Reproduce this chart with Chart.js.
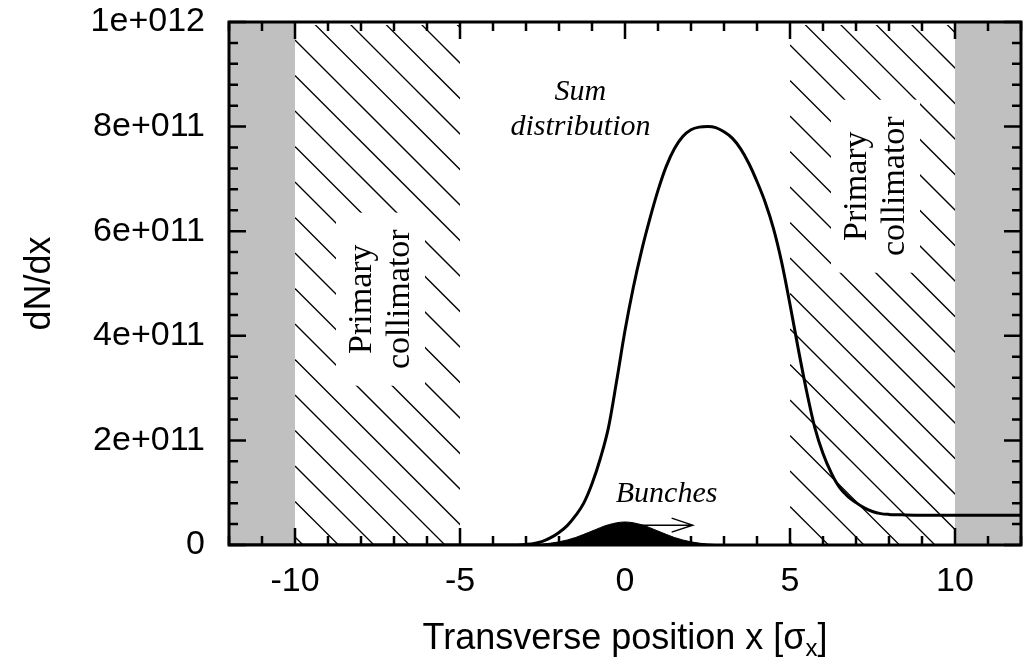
<!DOCTYPE html>
<html>
<head>
<meta charset="utf-8">
<script src="https://cdn.jsdelivr.net/npm/chart.js@4.4.0/dist/chart.umd.min.js"></script>
<style>
  html, body { margin: 0; padding: 0; background: #fff; }
  .chart-container { position: relative; width: 1030px; height: 665px; }
</style>
</head>
<body>
<div class="chart-container"><canvas id="beamChart" width="1030" height="665"></canvas></div>
<script>
// transverse position (sigma_x) and dN/dx of the summed distribution
const sumPositions = [-12, -4, -3.5, -3.25, -3, -2.75, -2.5, -2.25, -2, -1.75, -1.5, -1.25, -1, -0.75, -0.5, -0.25,
    0, 0.25, 0.5, 0.75, 1, 1.25, 1.5, 1.75, 2, 2.25, 2.5, 2.75, 3, 3.25, 3.5, 3.75,
    4, 4.25, 4.5, 4.75, 5, 5.25, 5.5, 5.75, 6, 6.25, 6.5, 6.75, 7, 7.25, 7.5, 7.75,
    8, 8.5, 9, 10, 11, 12];
const sumValues = [0, 0, 0, 2e8, 1.2e9, 3e9, 7e9, 1.4e10, 2.4e10, 3.7e10, 5.6e10, 8e10, 1.17e11, 1.65e11, 2.25e11, 3.15e11,
    4.1e11, 4.92e11, 5.62e11, 6.23e11, 6.78e11, 7.24e11, 7.58e11, 7.81e11, 7.94e11, 7.99e11, 8.0e11, 7.98e11, 7.9e11, 7.78e11, 7.58e11, 7.3e11,
    6.95e11, 6.55e11, 6.05e11, 5.4e11, 4.6e11, 3.75e11, 2.95e11, 2.25e11, 1.75e11, 1.38e11, 1.1e11, 9.3e10, 8.1e10, 7.1e10, 6.4e10, 6e10,
    5.85e10, 5.75e10, 5.7e10, 5.7e10, 5.7e10, 5.7e10];

// single bunch profile
const bunchPositions = [-3.5, -3, -2.5, -2, -1.5, -1, -0.5, 0, 0.5, 1, 1.5, 2, 2.5, 3, 3.5];
const bunchValues = [1e8, 5e8, 1.9e9, 6e9, 1.43e10, 2.67e10, 3.88e10, 4.4e10, 3.88e10, 2.67e10, 1.43e10, 6e9, 1.9e9, 5e8, 1e8];

const xTickValues = [-10, -5, 0, 5, 10];
const yTickValues = [0, 2e11, 4e11, 6e11, 8e11, 1e12];
const yTickLabels = ['0', '2e+011', '4e+011', '6e+011', '8e+011', '1e+012'];

const grayRanges = [[-12, -10], [10, 12]];
const collimatorRanges = [[-10, -5], [5, 10]];
const collimatorLabelY = [4.7e11, 6.86e11];

const SANS = '"Liberation Sans", Arial, sans-serif';
const SERIF = '"Liberation Serif", "Times New Roman", serif';

const backdrop = {
    id: 'backdrop',
    beforeDatasetsDraw(chart) {
        const ctx = chart.ctx;
        const xs = chart.scales.x, ys = chart.scales.y;
        const top = chart.chartArea.top, bottom = chart.chartArea.bottom;
        ctx.save();
        // grey zones beyond the collimators
        ctx.fillStyle = '#c0c0c0';
        grayRanges.forEach(r => {
            const a = xs.getPixelForValue(r[0]), b = xs.getPixelForValue(r[1]);
            ctx.fillRect(a, top, b - a, bottom - top);
        });
        // hatched collimator jaws
        const spacing = 35.5;
        collimatorRanges.forEach((r, i) => {
            const a = xs.getPixelForValue(r[0]), b = xs.getPixelForValue(r[1]);
            const phase = i === 0 ? 18 : 23;
            ctx.save();
            ctx.beginPath();
            ctx.rect(a, top + 3, b - a, bottom - top - 3);
            ctx.clip();
            ctx.strokeStyle = '#000';
            ctx.lineWidth = 1.3;
            const kMin = -Math.ceil((b - a) / spacing) - 1;
            const kMax = Math.ceil((bottom - top) / spacing) + 1;
            for (let k = kMin; k <= kMax; k++) {
                const y0 = top + phase + k * spacing;
                ctx.beginPath();
                ctx.moveTo(a, y0);
                ctx.lineTo(a + (bottom - top) + (b - a), y0 + (bottom - top) + (b - a));
                ctx.stroke();
            }
            ctx.restore();

            // label box
            const cx = (a + b) / 2 + 3;
            const cy = ys.getPixelForValue(collimatorLabelY[i]);
            ctx.fillStyle = '#fff';
            ctx.fillRect(cx - 44.5, cy - 86.5, 89, 173);
            ctx.save();
            ctx.translate(cx, cy);
            ctx.rotate(-Math.PI / 2);
            ctx.fillStyle = '#000';
            ctx.font = '34px ' + SERIF;
            ctx.textAlign = 'center';
            ctx.textBaseline = 'alphabetic';
            ctx.fillText('Primary', 0, -10);
            ctx.fillText('collimator', 0, 28);
            ctx.restore();
        });

        // annotations
        ctx.fillStyle = '#000';
        ctx.font = 'italic 30px ' + SERIF;
        ctx.textAlign = 'center';
        ctx.textBaseline = 'alphabetic';
        const sx = xs.getPixelForValue(-1.35);
        ctx.fillText('Sum', sx, ys.getPixelForValue(8.51e11));
        ctx.fillText('distribution', sx, ys.getPixelForValue(7.84e11));
        ctx.fillText('Bunches', xs.getPixelForValue(1.26), ys.getPixelForValue(8.2e10));
        ctx.restore();
    },
    afterDatasetsDraw(chart) {
        const ctx = chart.ctx;
        const xs = chart.scales.x, ys = chart.scales.y;
        const {left, right, top, bottom} = chart.chartArea;
        ctx.save();
        // arrow showing the bunch motion
        const ay = ys.getPixelForValue(3.8e10);
        const ax0 = xs.getPixelForValue(0.3), ax1 = xs.getPixelForValue(2.05);
        ctx.strokeStyle = '#000';
        ctx.lineWidth = 1.5;
        ctx.beginPath();
        ctx.moveTo(ax0, ay);
        ctx.lineTo(ax1, ay);
        ctx.moveTo(ax1 - 21, ay - 7);
        ctx.lineTo(ax1, ay);
        ctx.lineTo(ax1 - 21, ay + 7);
        ctx.stroke();

        // inward ticks on all four sides
        ctx.lineWidth = 2.5;
        ctx.beginPath();
        for (let v = -12; v <= 12; v++) {
            const px = xs.getPixelForValue(v);
            const len = v % 5 === 0 ? 17 : 9;
            ctx.moveTo(px, bottom); ctx.lineTo(px, bottom - len);
            ctx.moveTo(px, top); ctx.lineTo(px, top + len);
        }
        for (let v = 0; v <= 1e12 + 1; v += 4e10) {
            const py = ys.getPixelForValue(v);
            const major = Math.round(v / 4e10) % 5 === 0;
            const len = major ? 17 : 9;
            ctx.moveTo(left, py); ctx.lineTo(left + len, py);
            ctx.moveTo(right, py); ctx.lineTo(right - len, py);
        }
        ctx.stroke();

        // frame
        ctx.lineWidth = 3;
        ctx.strokeRect(left, top, right - left, bottom - top);

        // axis titles
        ctx.fillStyle = '#000';
        ctx.font = '36px ' + SANS;
        ctx.textBaseline = 'alphabetic';
        const main = 'Transverse position x [\u03c3';
        const wMain = ctx.measureText(main).width;
        ctx.font = '24px ' + SANS;
        const wSub = ctx.measureText('x').width;
        ctx.font = '36px ' + SANS;
        const wEnd = ctx.measureText(']').width;
        let tx = (left + right) / 2 - (wMain + wSub + wEnd) / 2;
        const ty = 649;
        ctx.textAlign = 'left';
        ctx.fillText(main, tx, ty);
        tx += wMain;
        ctx.font = '24px ' + SANS;
        ctx.fillText('x', tx, ty + 7);
        tx += wSub;
        ctx.font = '36px ' + SANS;
        ctx.fillText(']', tx, ty);

        ctx.save();
        ctx.translate(50, (top + bottom) / 2);
        ctx.rotate(-Math.PI / 2);
        ctx.textAlign = 'center';
        ctx.fillText('dN/dx', 0, 0);
        ctx.restore();
        ctx.restore();
    }
};

const ctx1 = document.getElementById('beamChart').getContext('2d');
const beamChart = new Chart(ctx1, {
    type: 'line',
    data: {
        datasets: [{
            label: 'Sum distribution',
            data: sumPositions.map((x, i) => ({x: x, y: sumValues[i]})),
            borderColor: '#000',
            borderWidth: 3,
            pointRadius: 0,
            fill: false,
            cubicInterpolationMode: 'monotone'
        }, {
            label: 'Bunches',
            data: bunchPositions.map((x, i) => ({x: x, y: bunchValues[i]})),
            borderColor: '#000',
            backgroundColor: '#000',
            borderWidth: 1,
            pointRadius: 0,
            fill: 'origin',
            cubicInterpolationMode: 'monotone'
        }]
    },
    options: {
        responsive: false,
        animation: false,
        layout: { padding: { left: 0, top: 22, right: 9, bottom: 0 } },
        scales: {
            x: {
                type: 'linear',
                min: -12,
                max: 12,
                afterBuildTicks: (s) => { s.ticks = xTickValues.map(v => ({value: v})); },
                afterFit: (s) => { s.height = 120; s.paddingLeft = 0; s.paddingRight = 0; },
                grid: { display: false, drawTicks: false },
                border: { display: false },
                ticks: {
                    color: '#000',
                    padding: 16,
                    maxRotation: 0,
                    font: { family: SANS, size: 34 },
                    callback: (v) => String(v)
                }
            },
            y: {
                type: 'linear',
                min: 0,
                max: 1e12,
                afterBuildTicks: (s) => { s.ticks = yTickValues.map(v => ({value: v})); },
                afterFit: (s) => { s.width = 229; s.paddingTop = 0; s.paddingBottom = 0; },
                grid: { display: false, drawTicks: false },
                border: { display: false },
                ticks: {
                    color: '#000',
                    padding: 24,
                    font: { family: SANS, size: 34 },
                    callback: (v) => yTickLabels[yTickValues.indexOf(v)]
                }
            }
        },
        plugins: {
            legend: { display: false },
            tooltip: { enabled: false }
        }
    },
    plugins: [backdrop]
});
</script>
</body>
</html>
